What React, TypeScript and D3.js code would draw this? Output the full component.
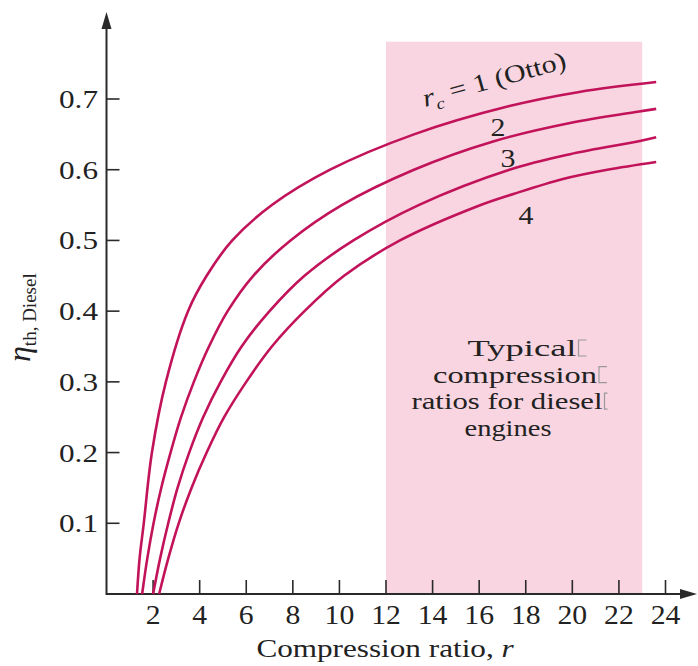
import React, { useEffect, useRef } from 'react';
import * as d3 from 'd3';

// compression ratio r vs thermal efficiency, one array per cutoff ratio rc
const otto = [
  [1.31, 0], [1.42, 0.05], [1.6, 0.1], [1.95, 0.2], [2.55, 0.3], [3.5, 0.4], [4.3, 0.45],
  [5.4, 0.5], [7.1, 0.55], [9.6, 0.6], [13.2, 0.65], [17.3, 0.69], [20.3, 0.71], [23.6, 0.724],
];
const rc2 = [
  [1.53, 0], [1.75, 0.05], [2.02, 0.1], [2.35, 0.15], [2.75, 0.2], [3.2, 0.25], [3.75, 0.3],
  [4.4, 0.35], [5.2, 0.4], [6.3, 0.45], [7.9, 0.5], [10.1, 0.55], [13.2, 0.6], [16.6, 0.64],
  [19.9, 0.666], [22.8, 0.682], [23.6, 0.686],
];
const rc3 = [
  [2.0, 0], [2.3, 0.05], [2.65, 0.1], [3.05, 0.15], [3.55, 0.2], [4.15, 0.25], [4.9, 0.3],
  [5.8, 0.35], [7.0, 0.4], [8.5, 0.45], [10.6, 0.5], [13.4, 0.55], [17.3, 0.6], [19.9, 0.622],
  [22.8, 0.64], [23.6, 0.646],
];
const rc4 = [
  [2.26, 0], [2.65, 0.05], [3.1, 0.1], [3.65, 0.15], [4.3, 0.2], [5.05, 0.25], [6.0, 0.3],
  [7.1, 0.35], [8.5, 0.4], [10.2, 0.45], [12.6, 0.5], [15.9, 0.548], [17.5, 0.566],
  [19.6, 0.587], [21.5, 0.6], [23.6, 0.611],
];
const curves = [otto, rc2, rc3, rc4];

const xTicks = [2, 4, 6, 8, 10, 12, 14, 16, 18, 20, 22, 24];
const yTicks = [0.1, 0.2, 0.3, 0.4, 0.5, 0.6, 0.7];
const dieselBand = [12, 23]; // typical diesel compression ratios
const bandTop = 0.781;
const noteLines = ['Typical', 'compression', 'ratios for diesel', 'engines'];
const noteTails = ['box', 'box', 'bar', ''];

const W = 698;
const H = 666;
const FONT = '"Liberation Serif", "Times New Roman", serif';
const AXIS = '#2a2a2a';
const LINE = '#c2135a';

const App = () => {
  const svgRef = useRef(null);

  useEffect(() => {
    const svg = d3.select(svgRef.current);
    svg.selectAll('*').remove();

    const x = d3.scaleLinear().domain([0, 24]).range([106.5, 665.5]);
    const y = d3.scaleLinear().domain([0, 0.7]).range([594, 99]);

    // shaded band
    svg.append('rect')
      .attr('x', x(dieselBand[0]))
      .attr('y', y(bandTop))
      .attr('width', x(dieselBand[1]) - x(dieselBand[0]))
      .attr('height', y(0) - y(bandTop))
      .attr('fill', '#f8d5e0');

    // axes lines + arrows
    svg.append('line')
      .attr('x1', x(0)).attr('x2', 688)
      .attr('y1', y(0)).attr('y2', y(0))
      .attr('stroke', AXIS).attr('stroke-width', 2);
    svg.append('path')
      .attr('d', `M697,${y(0)} L680,${y(0) - 5} L680,${y(0) + 5} Z`)
      .attr('fill', AXIS);
    svg.append('line')
      .attr('x1', x(0)).attr('x2', x(0))
      .attr('y1', y(0) + 1).attr('y2', 22)
      .attr('stroke', AXIS).attr('stroke-width', 2);
    svg.append('path')
      .attr('d', `M${x(0)},12 L${x(0) - 5},29 L${x(0) + 5},29 Z`)
      .attr('fill', AXIS);

    // x ticks
    const gx = svg.append('g');
    gx.selectAll('line')
      .data(xTicks)
      .join('line')
        .attr('x1', d => x(d)).attr('x2', d => x(d))
        .attr('y1', y(0)).attr('y2', y(0) - 14)
        .attr('stroke', AXIS).attr('stroke-width', 1.6);
    gx.selectAll('text')
      .data(xTicks)
      .join('text')
        .attr('transform', d => `translate(${x(d)},624) scale(1.1,1)`)
        .attr('text-anchor', 'middle')
        .attr('font-family', FONT)
        .attr('font-size', 27)
        .attr('fill', '#222')
        .text(d => d);

    // y ticks
    const gy = svg.append('g');
    gy.selectAll('line')
      .data(yTicks)
      .join('line')
        .attr('x1', x(0)).attr('x2', x(0) + 13)
        .attr('y1', d => y(d)).attr('y2', d => y(d))
        .attr('stroke', AXIS).attr('stroke-width', 1.6);
    gy.selectAll('text')
      .data(yTicks)
      .join('text')
        .attr('transform', d => `translate(98,${y(d) + 9}) scale(1.2,1)`)
        .attr('text-anchor', 'end')
        .attr('font-family', FONT)
        .attr('font-size', 26)
        .attr('fill', '#222')
        .text(d => d3.format('.1f')(d));

    // curves
    const line = d3.line()
      .x(d => x(d[0]))
      .y(d => y(d[1]))
      .curve(d3.curveCatmullRom.alpha(0.5));
    svg.append('g')
      .selectAll('path')
      .data(curves)
      .join('path')
        .attr('d', d => line(d))
        .attr('fill', 'none')
        .attr('stroke', LINE)
        .attr('stroke-width', 2.6);

    // curve labels
    const otLabel = svg.append('text')
      .attr('transform', 'translate(425,107) rotate(-15.5) scale(1.2,1)')
      .attr('font-family', FONT)
      .attr('font-size', 25)
      .attr('fill', '#222');
    otLabel.append('tspan').attr('font-style', 'italic').text('r');
    otLabel.append('tspan').attr('font-size', 16).attr('font-style', 'italic').attr('dy', 6).text('c');
    otLabel.append('tspan').attr('dy', -6).text(' = 1 (Otto)');

    const numLabels = [['2', 498, 136], ['3', 508, 167], ['4', 526, 224]];
    svg.append('g')
      .selectAll('text')
      .data(numLabels)
      .join('text')
        .attr('transform', d => `translate(${d[1]},${d[2]}) scale(1.15,1)`)
        .attr('text-anchor', 'middle')
        .attr('font-family', FONT)
        .attr('font-size', 26)
        .attr('fill', '#222')
        .text(d => d[0]);

    // note inside band
    const noteX = [522, 515, 507, 508];
    const noteW = [109, 164, 191, 87];
    const note = svg.append('g');
    noteLines.forEach((t, i) => {
      const by = 356 + i * 26.6;
      note.append('text')
        .attr('x', noteX[i])
        .attr('y', by)
        .attr('text-anchor', 'middle')
        .attr('textLength', noteW[i])
        .attr('lengthAdjust', 'spacingAndGlyphs')
        .attr('font-family', FONT)
        .attr('font-size', 23)
        .attr('fill', '#222')
        .text(t);
      const tx = noteX[i] + noteW[i] / 2 + 2;
      if (noteTails[i] === 'box') {
        note.append('path')
          .attr('d', `M${tx + 8},${by - 16} L${tx},${by - 16} L${tx},${by} L${tx + 8},${by}`)
          .attr('fill', 'none')
          .attr('stroke', '#9a9a9a')
          .attr('stroke-width', 1.2);
      } else if (noteTails[i] === 'bar') {
        note.append('path')
          .attr('d', `M${tx + 3},${by - 16} L${tx},${by - 16} L${tx},${by} L${tx + 3},${by}`)
          .attr('fill', 'none')
          .attr('stroke', '#9a9a9a')
          .attr('stroke-width', 1.2);
      }
    });

    // axis titles
    const xt = svg.append('text')
      .attr('transform', 'translate(385,657) scale(1.2,1)')
      .attr('text-anchor', 'middle')
      .attr('font-family', FONT)
      .attr('font-size', 26)
      .attr('fill', '#222');
    xt.append('tspan').text('Compression ratio,  ');
    xt.append('tspan').attr('font-style', 'italic').text('r');

    const yt = svg.append('text')
      .attr('transform', 'translate(30,362) rotate(-90)')
      .attr('font-family', FONT)
      .attr('font-size', 32)
      .attr('fill', '#222');
    yt.append('tspan').attr('font-style', 'italic').text('\u03B7');
    yt.append('tspan').attr('font-size', 19).attr('dy', 6).text('th, Diesel');
  }, []);

  return (
    <svg
      ref={svgRef}
      width={W}
      height={H}
      style={{ position: 'absolute', left: 0, top: 0, background: '#fff' }}
    />
  );
};

export default App;
